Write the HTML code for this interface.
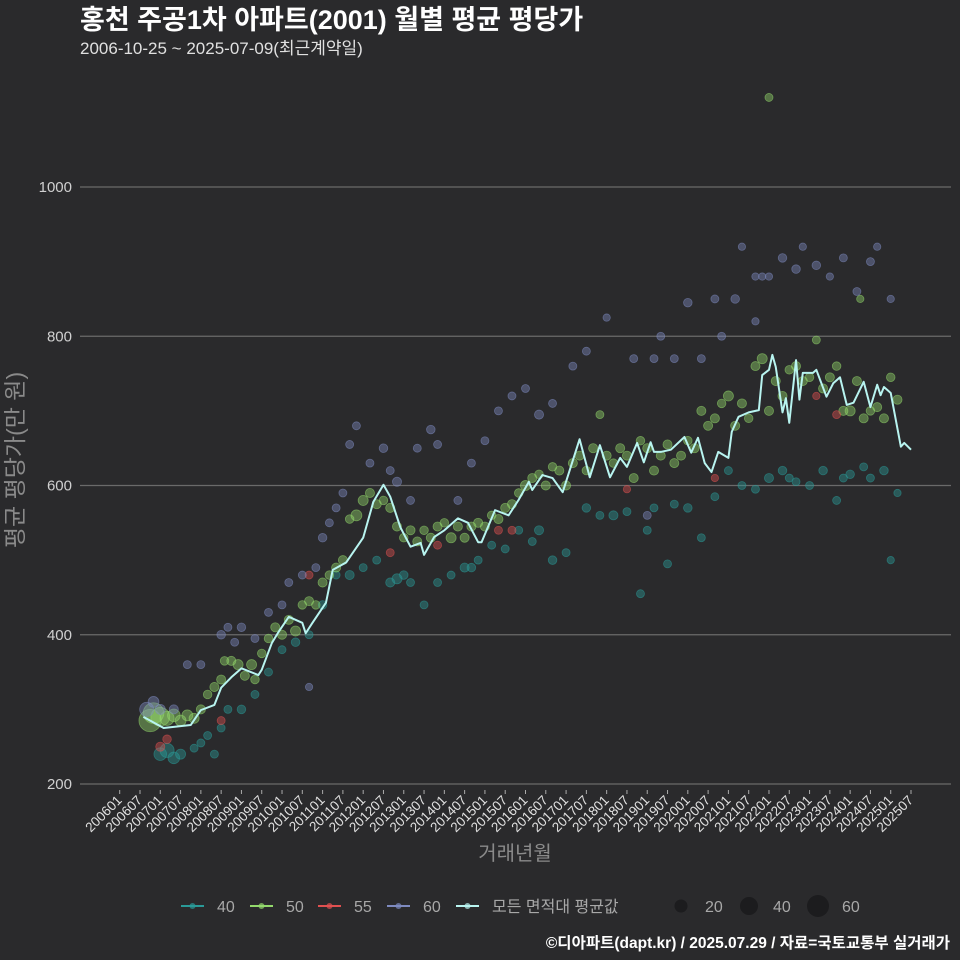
<!DOCTYPE html>
<html><head><meta charset="utf-8">
<style>
html,body{margin:0;padding:0;background:#2a2a2c;}
svg{display:block;font-family:"Liberation Sans","Noto Sans CJK KR",sans-serif;}
</style></head>
<body>
<svg id="chart" width="960" height="960" viewBox="0 0 960 960">
<rect width="960" height="960" fill="#2a2a2c"/>
<text x="80" y="29" fill="#ffffff" font-size="27" font-weight="bold">홍천 주공1차 아파트(2001) 월별 평균 평당가</text>
<text x="80" y="54" fill="#e0e0e0" font-size="17">2006-10-25 ~ 2025-07-09(최근계약일)</text>
<g id="grid"></g>
<g id="yticks"></g>
<g id="xticks"></g>
<g id="points"></g>
<g id="avg"></g>
<text transform="translate(23,460) rotate(-90)" text-anchor="middle" fill="#8a8a8a" font-size="23">평균 평당가(만 원)</text>
<text x="515" y="860" text-anchor="middle" fill="#8a8a8a" font-size="20">거래년월</text>
<g id="legend"></g>
<text x="950" y="948" text-anchor="end" fill="#ffffff" font-size="15.5" font-weight="bold">©디아파트(dapt.kr) / 2025.07.29 / 자료=국토교통부 실거래가</text>
</svg>
<script>
// data: [monthIndex from 2006-01, value(만원), count]
const yTicks=[200,400,600,800,1000];
const avgMonths=[7,13,21,24,28,30,33,36,41,42,45,47,50,54,55,57,61,63,67,72,75,78,80,83,86,89,90,93,96,100,103,106,107,111,115,118,121,122,125,128,131,136,139,142,145,148,150,153,155,157,158,160,163,167,169,171,173,175,177,180,181,183,186,189,190,192,193,194,196,197,198,200,201,202,205,206,209,211,213,215,217,220,222,224,225,226,228,231,232,234];
const avgValues=[290,275,279,299,306,329,343,355,346,353,389,404,424,416,402,416,443,487,497,530,578,601,585,544,518,523,507,531,540,556,550,524,524,567,560,581,605,594,614,610,591,662,611,654,611,637,625,657,631,658,645,645,648,665,644,664,630,618,645,637,672,692,698,701,748,755,775,759,698,717,684,768,715,751,751,755,719,737,745,708,711,739,705,735,721,732,724,652,657,648];
const s40=[[12,240,15],[14,245,20],[16,235,12],[18,240,8],[22,248,4],[24,255,4],[26,265,4],[28,240,4],[30,275,4],[32,300,4],[36,300,5],[40,320,4],[44,350,4],[48,380,4],[52,390,5],[56,400,4],[60,440,5],[64,480,4],[68,480,6],[72,490,4],[76,500,4],[80,470,6],[82,475,8],[84,480,5],[86,470,4],[90,440,4],[94,470,4],[98,480,4],[102,490,6],[104,490,5],[106,500,4],[110,520,4],[114,515,4],[118,540,4],[122,525,4],[124,540,6],[128,500,5],[132,510,4],[138,570,5],[142,560,4],[146,560,6],[150,565,4],[154,455,4],[156,540,4],[158,570,4],[162,495,4],[164,575,4],[168,570,5],[172,530,4],[176,585,4],[180,620,4],[184,600,4],[188,595,4],[192,610,6],[196,620,5],[198,610,4],[200,605,4],[204,600,4],[208,620,5],[212,580,4],[214,610,4],[216,615,5],[220,625,4],[222,610,4],[226,620,5],[228,500,3],[230,590,3]];
const s50=[[9,285,60],[10,295,50],[12,290,40],[14,288,20],[16,292,15],[18,285,10],[20,292,10],[22,288,8],[24,300,6],[26,320,5],[28,330,6],[30,340,6],[31,365,5],[33,365,6],[35,360,8],[37,345,6],[39,360,8],[40,340,5],[42,375,5],[44,395,5],[46,410,6],[48,400,6],[50,420,6],[52,405,8],[54,440,5],[56,445,6],[58,440,5],[60,470,6],[62,480,5],[64,490,6],[66,500,6],[68,555,5],[70,560,10],[72,580,8],[74,590,6],[76,575,6],[78,580,5],[80,570,6],[82,545,6],[84,530,5],[86,540,6],[88,525,6],[90,540,5],[92,530,6],[94,545,6],[96,550,5],[98,530,8],[100,545,6],[102,530,6],[104,545,6],[106,550,6],[108,545,6],[110,560,5],[112,555,6],[114,570,6],[116,575,6],[118,590,5],[120,600,8],[122,610,6],[124,615,5],[126,600,6],[128,625,5],[130,620,6],[132,600,6],[134,630,6],[136,640,6],[138,620,5],[140,650,6],[142,695,4],[144,640,6],[146,630,5],[148,650,6],[150,640,6],[152,610,6],[154,660,5],[156,650,6],[158,620,6],[160,640,6],[162,655,6],[164,630,6],[166,640,6],[168,660,5],[170,650,6],[172,700,6],[174,680,6],[176,690,6],[178,710,5],[180,720,8],[182,680,6],[184,710,6],[186,690,5],[188,760,6],[190,770,8],[192,700,6],[194,740,6],[196,720,6],[198,755,5],[200,760,6],[202,740,6],[204,745,5],[206,795,4],[208,730,6],[210,745,6],[212,760,5],[214,700,6],[216,700,8],[218,740,6],[220,690,6],[222,700,5],[224,705,6],[226,690,6],[228,745,5],[230,715,6],[192,1120,4],[219,850,3]];
const s55=[[12,250,6],[14,260,5],[30,285,4],[56,480,4],[80,510,4],[94,520,4],[112,540,4],[116,540,4],[150,595,3],[176,610,3],[206,720,3],[212,695,4]];
const s60=[[8,300,20],[10,310,10],[12,300,8],[16,300,6],[20,360,4],[24,360,4],[30,400,5],[32,410,4],[34,390,4],[36,410,5],[40,395,4],[44,430,4],[48,440,4],[50,470,4],[54,480,4],[56,330,3],[58,490,4],[60,530,5],[62,550,4],[64,570,4],[66,590,4],[68,655,4],[70,680,4],[74,630,4],[78,650,5],[80,620,4],[82,605,6],[86,580,4],[88,650,4],[92,675,5],[94,655,4],[100,580,4],[104,630,4],[108,660,4],[112,700,4],[116,720,4],[120,730,4],[124,695,6],[128,710,4],[134,760,4],[138,780,4],[144,825,3],[152,770,4],[156,560,4],[158,770,4],[160,800,4],[164,770,4],[168,845,5],[172,770,4],[176,850,4],[178,800,4],[182,850,5],[184,920,3],[188,880,3],[192,880,3],[196,905,5],[200,890,5],[202,920,3],[206,895,5],[210,880,3],[214,905,4],[218,860,4],[222,900,4],[224,920,3],[228,850,3],[190,880,3],[188,820,3]];
const legendLabels=["40","50","55","60","모든 면적대 평균값"];
const sizeLabels=[20,40,60];

const NS="http://www.w3.org/2000/svg";
const X0=119.7, DX=20.29/6;
function xs(m){return X0+m*DX;}
function ys(v){return 784-(v-200)*149.25/200;}
function rs(n){return 1.5+1.25*Math.sqrt(n);}
function mk(tag,attrs,parent){const e=document.createElementNS(NS,tag);for(const k in attrs)e.setAttribute(k,attrs[k]);parent.appendChild(e);return e;}

const grid=document.getElementById('grid'), yt=document.getElementById('yticks'), xt=document.getElementById('xticks');
yTicks.forEach(v=>{
  const l=mk('line',{x1:80,x2:951,y1:ys(v),y2:ys(v),stroke:'#6a6a6a','stroke-width':1.2},grid);
  
  
  const t=mk('text',{x:72,y:ys(v)+5,'text-anchor':'end',fill:'#d0d0d0','font-size':15},yt);
  t.textContent=v;
  
  
});
for(let i=0;i<40;i++){
  const yr=2006+Math.floor(i/2), mo=i%2?'07':'01';
  const lab=yr+mo, x=xs(i*6);
  const tk=mk('line',{x1:x,x2:x,y1:790,y2:794,stroke:'#aaaaaa','stroke-width':1},xt);
  
  
  const t=mk('text',{transform:`translate(${x+3},${801}) rotate(-45)`,'text-anchor':'end',fill:'#e0e0e0','font-size':13.5},xt);
  t.textContent=lab;
  
  
}
const pts=document.getElementById('points');
const series=[[s40,'#2a9a98','40'],[s50,'#93d96c','50'],[s55,'#e05050','55'],[s60,'#7e8ac0','60']];
series.forEach(([arr,col,nm])=>{
  const g=mk('g',{},pts);
  
  
  arr.forEach(d=>{
    const c=mk('circle',{cx:xs(d[0]),cy:ys(d[1]),r:rs(d[2]),fill:col,'fill-opacity':0.42,stroke:col,'stroke-opacity':0.55,'stroke-width':0.8},g);
    
    
  });
});
const avg=document.getElementById('avg');
const pl=mk('polyline',{points:avgMonths.map((m,i)=>xs(m)+','+ys(avgValues[i])).join(' '),fill:'none',stroke:'#b8f4f0','stroke-width':2,'stroke-linejoin':'round'},avg);



const lg=document.getElementById('legend');
const lcols=['#2a9a98','#93d96c','#e05050','#7e8ac0','#b8f4f0'];
const lx=[181,250,318,387,456];
legendLabels.forEach((lab,i)=>{
  const g=mk('g',{},lg);
  
  
  mk('line',{x1:lx[i],x2:lx[i]+23,y1:906,y2:906,stroke:lcols[i],'stroke-width':2},g);
  mk('circle',{cx:lx[i]+11.5,cy:906,r:3,fill:lcols[i],'fill-opacity':0.7},g);
  const t=mk('text',{x:lx[i]+36,y:912,fill:'#a8a8a8','font-size':16},g);
  t.textContent=lab;
});
const sx=[681,749,818];
const sr=[6.5,9,11];
sizeLabels.forEach((n,i)=>{
  const g=mk('g',{},lg);
  
  
  mk('circle',{cx:sx[i],cy:906,r:sr[i],fill:'#1c1c1e'},g);
  const t=mk('text',{x:sx[i]+24,y:912,fill:'#a8a8a8','font-size':16},g);
  t.textContent=n;
});
</script>
</body></html>
